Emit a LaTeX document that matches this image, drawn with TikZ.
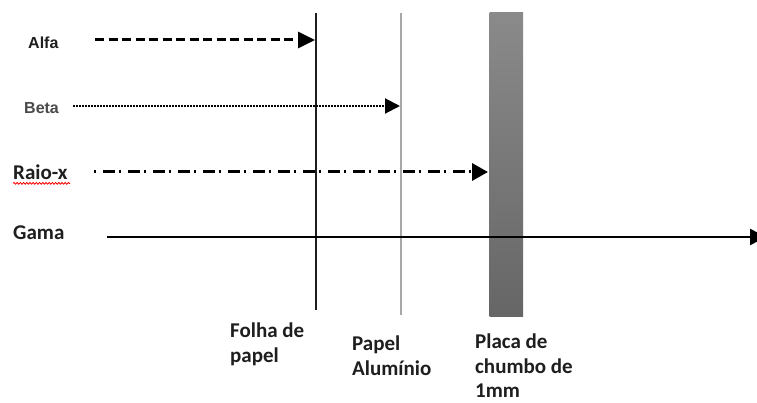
\documentclass[tikz,border=0pt]{standalone}
\usepackage{fontspec}
\newfontfamily\calfont{Carlito}
\newfontfamily\arlfont{Liberation Sans}
\usetikzlibrary{arrows.meta,decorations.pathmorphing}
\definecolor{plateTop}{HTML}{8A8A8A}
\definecolor{plateBot}{HTML}{666666}
\definecolor{alulin}{HTML}{A8A8A8}
\definecolor{inkc}{HTML}{1E1E1E}
\definecolor{betac}{HTML}{4A4A4A}
\tikzset{
  lbl/.style={inner sep=0pt, anchor=base west, text=inkc, font=\calfont\bfseries\fontsize{21}{24.5}\selectfont, align=left},
  arlbl/.style={inner sep=0pt, anchor=base west, text=inkc, font=\arlfont\bfseries\fontsize{16}{19}\selectfont},
  ray/.style={draw=black, line cap=butt},
  tipA/.style={-{Triangle[length=17pt,width=16pt]}},
  barrier/.style={line width=2pt},
}
\begin{document}
\begin{tikzpicture}[x=1pt,y=-1pt]
\clip (0,0) rectangle (757,403);
\fill[white] (0,0) rectangle (757,403);
% barriers
\coordinate (folhaT) at (315.5,13);
\coordinate (folhaB) at (315.5,310);
\coordinate (aluT) at (401,13);
\coordinate (aluB) at (401,315);
\draw[barrier, draw=inkc] (folhaT) -- (folhaB);
\draw[barrier, draw=alulin] (aluT) -- (aluB);
\shade[top color=plateTop, bottom color=plateBot] (489.5,13) rectangle (523,316);
% labels left
\node[arlbl] (alfa) at (28,48.5) {Alfa};
\node[arlbl, text=betac] (beta) at (24,114) {Beta};
\node[lbl] (raio) at (13,180) {Raio-x};
\node[lbl] (gama) at (13,240) {Gama};
\draw[red, line width=0.8pt, decorate, decoration={snake, amplitude=0.9pt, segment length=3.2pt}] (raio.south west) ++(0,3) coordinate (wavyA) -- ++(57,0) coordinate (wavyB);
% rays
\coordinate (alfaS) at (95,40);
\coordinate (alfaE) at (315,40);
\draw[ray, tipA, line width=3pt, dash pattern=on 9pt off 4.5pt] (alfaS) -- (alfaE);
\coordinate (betaS) at (73,106);
\coordinate (betaE) at (400,106);
\draw[ray, -{Triangle[length=15pt,width=15pt]}, line width=2pt, dash pattern=on 1.5pt off 1.5pt] (betaS) -- (betaE);
\coordinate (raioS) at (94,172);
\coordinate (raioE) at (488,172);
\draw[ray, -{Triangle[length=16pt,width=17pt]}, line width=3pt, dash pattern=on 2pt off 7pt on 12pt off 4pt] (raioS) -- (raioE);
\coordinate (gamaS) at (107,237);
\coordinate (gamaE) at (766,237);
\draw[ray, -{Triangle[length=16pt,width=16pt]}, line width=2.5pt] (gamaS) -- (gamaE);
% bottom labels (base = last line)
\node[lbl] (folha) at (230,362) {Folha de\\papel};
\node[lbl] (alu) at (352,375) {Papel\\Alumínio};
\node[lbl] (placa) at (475,397.5) {Placa de\\chumbo de\\1mm};
\end{tikzpicture}
\end{document}
